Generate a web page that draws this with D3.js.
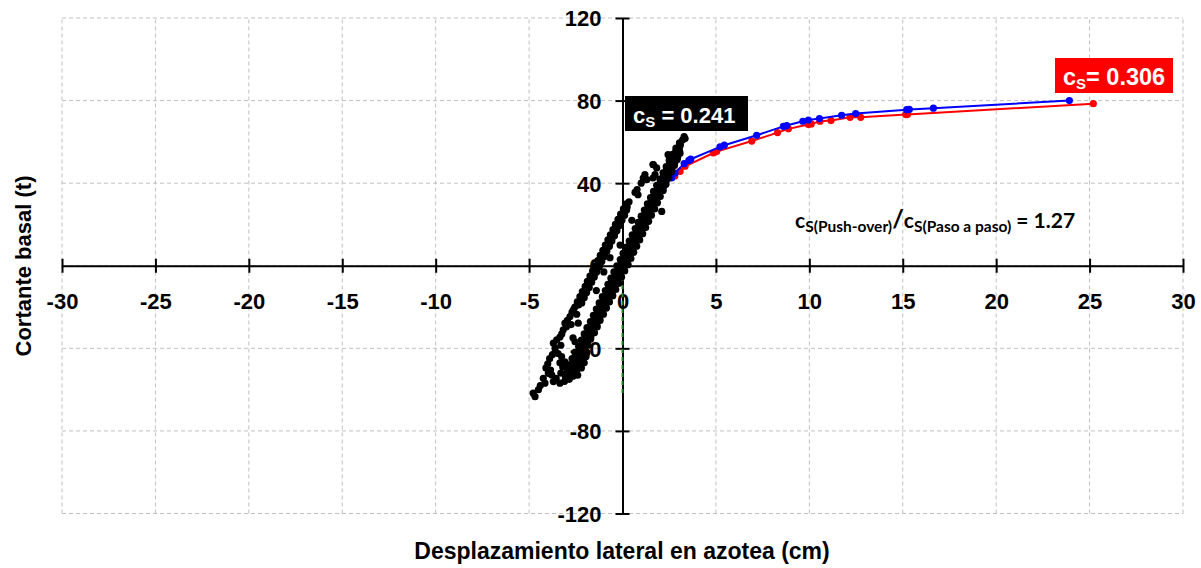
<!DOCTYPE html>
<html>
<head>
<meta charset="utf-8">
<script src="https://cdn.jsdelivr.net/npm/d3@7"></script>
<style>
  html, body { margin: 0; padding: 0; background: #ffffff; }
  svg { display: block; }
</style>
</head>
<body>
<svg id="chart" width="1201" height="568"></svg>
<script>
// ---------------- DATA ----------------
const xTicks = [-30, -25, -20, -15, -10, -5, 0, 5, 10, 15, 20, 25, 30];
const yTicks = [-120, -80, -40, 0, 40, 80, 120];

const xTitle = "Desplazamiento lateral en azotea (cm)";
const yTitle = "Cortante basal (t)";

// Push-over curve (blue)
const blueX = [0, 1.2, 2.2, 2.63, 2.81, 3.3, 3.55, 3.65, 5.22, 5.45, 7.18, 8.61, 8.79, 9.65, 9.95, 10.54, 11.73, 12.48, 15.21, 15.35, 16.64, 23.92];
const blueY = [0, 21, 38.5, 42.5, 44.9, 49.5, 51.0, 51.6, 57.6, 58.4, 63.2, 67.5, 67.9, 70.0, 70.6, 71.3, 72.9, 73.7, 75.6, 75.7, 76.3, 80.0];

// Push-over curve (red)
const redX = [0, 1.2, 2.1, 2.37, 2.8, 3.08, 3.35, 4.86, 5.04, 6.92, 8.3, 8.88, 9.95, 10.1, 10.57, 11.16, 12.18, 12.75, 15.16, 15.25, 25.2];
const redY = [0, 20.5, 36.5, 41.7, 43.5, 45.7, 48.2, 54.6, 55.3, 60.4, 64.5, 66.3, 68.4, 68.7, 70.0, 70.3, 71.9, 71.9, 73.2, 73.2, 78.5];

// Step-by-step (paso a paso) response: dense right band
const rightBand = [
  [-3.05,-54],[-2.85,-55],[-2.65,-53.5],
  [-2.95,-51],[-2.7,-51.5],[-2.45,-50.5],
  [-2.85,-48],[-2.57,-48],[-2.3,-47.5],[-2.05,-47],
  [-2.7,-45],[-2.45,-45.5],[-2.2,-44.5],[-1.95,-44],
  [-2.55,-42],[-2.3,-42],[-2.05,-41.5],
  [-2.35,-39],[-2.1,-39],[-1.85,-38.5],
  [-2.2,-36],[-1.95,-36],[-1.7,-35.5],
  [-2.05,-33],[-1.78,-33],[-1.5,-32.5],
  [-1.9,-30],[-1.6,-30],[-1.35,-29.5],
  [-1.72,-27],[-1.45,-27],[-1.2,-26.5],
  [-1.56,-24],[-1.28,-24],[-1.02,-23.5],
  [-1.4,-21],[-1.12,-21],[-0.86,-20.5],
  [-1.25,-18],[-0.96,-18],[-0.7,-17.5],
  [-1.08,-15],[-0.8,-15],[-0.52,-14.5],
  [-0.92,-12],[-0.64,-12],[-0.36,-11.5],
  [-0.78,-9],[-0.48,-9],[-0.2,-8.5],
  [-0.62,-6],[-0.32,-6],[-0.05,-5.5],
  [-0.46,-3],[-0.16,-3],[0.12,-2.5],
  [-0.3,0],[0,0],[0.3,0.5],
  [-0.12,3],[0.16,3],[0.45,3.5],
  [0.03,6],[0.32,6],[0.6,6.5],
  [0.2,9],[0.48,9],[0.76,9.5],
  [0.36,12],[0.64,12],[0.92,12.5],
  [0.52,15],[0.8,15],[1.08,15.5],
  [0.68,18],[0.96,18],[1.24,18.5],
  [0.84,21],[1.12,21],[1.4,21.5],
  [1.0,24],[1.28,24],[1.55,24.5],
  [1.17,27],[1.44,27],[1.72,27.5],
  [1.33,30],[1.6,30],[1.87,30.5],
  [1.5,33],[1.76,33],[2.02,33.5],
  [1.66,36],[1.93,36],[2.18,36.5],
  [1.83,39],[2.09,39],[2.33,39.5],
  [2.0,42],[2.25,42],[2.48,42.5],
  [2.17,45],[2.41,45],[2.62,45.5],
  [2.34,48],[2.57,48],[2.78,48.5],
  [2.5,51],[2.73,51],[2.93,51.5],
  [2.68,54],[2.89,54],[3.08,54.5],
  [2.86,57],[3.05,57.5],
  [3.05,59.5],[3.22,61],[3.3,62.5],
  [-2.95,-52.5],[-2.67,-52.5],[-2.79,-49.5],[-2.51,-49.5],[-2.63,-46.5],[-2.35,-46.5],
  [-2.47,-43.5],[-2.19,-43.5],[-2.31,-40.5],[-2.03,-40.5],[-2.15,-37.5],[-1.87,-37.5],
  [-1.98,-34.5],[-1.7,-34.5],[-1.82,-31.5],[-1.54,-31.5],[-1.66,-28.5],[-1.38,-28.5],
  [-1.5,-25.5],[-1.22,-25.5],[-1.34,-22.5],[-1.06,-22.5],[-1.18,-19.5],[-0.9,-19.5],
  [-1.02,-16.5],[-0.74,-16.5],[-0.86,-13.5],[-0.58,-13.5],[-0.7,-10.5],[-0.42,-10.5],
  [-0.54,-7.5],[-0.26,-7.5],[-0.38,-4.5],[-0.1,-4.5],[-0.22,-1.5],[0.06,-1.5],
  [-0.06,1.5],[0.22,1.5],[0.1,4.5],[0.38,4.5],[0.26,7.5],[0.54,7.5],
  [0.42,10.5],[0.7,10.5],[0.58,13.5],[0.86,13.5],[0.74,16.5],[1.02,16.5],
  [0.9,19.5],[1.18,19.5],[1.06,22.5],[1.34,22.5],[1.22,25.5],[1.5,25.5],
  [1.38,28.5],[1.66,28.5],[1.54,31.5],[1.82,31.5],[1.7,34.5],[1.98,34.5],
  [1.87,37.5],[2.15,37.5],[2.03,40.5],[2.31,40.5],[2.19,43.5],[2.47,43.5],
  [2.35,46.5],[2.63,46.5],[2.51,49.5],[2.79,49.5],[2.67,52.5],[2.95,52.5],
  [2.85,55.5],[3.05,55.5],[3.1,58.5],
  [-3.2,-49],[-3.3,-52],[-3.1,-56],[-2.4,-53],[-2.2,-49.5],[-1.9,-42],[-3.35,-47]
];

// Step-by-step response: left band
const leftBand = [
  [-2.55,-20],[-2.35,-19],[-2.42,-17.5],[-2.2,-16.5],[-2.28,-15],[-2.06,-14],
  [-2.15,-12.5],[-1.93,-11.5],[-2.0,-10],[-1.8,-9],[-1.88,-7.5],[-1.66,-6.5],
  [-1.74,-5],[-1.52,-4],[-1.6,-2.5],[-1.38,-1.5],[-1.46,0],[-1.24,1],
  [-1.32,2.5],[-1.1,3.5],[-1.19,5],[-0.97,6],[-1.05,7.5],[-0.83,8.5],
  [-0.92,10],[-0.7,11],[-0.78,12.5],[-0.56,13.5],[-0.65,15],[-0.43,16],
  [-0.51,17.5],[-0.29,18.5],[-0.38,20],[-0.16,21],[-0.24,22.5],[-0.02,23.5],
  [-0.1,25],[0.1,26],[0.05,27.5],[0.25,28.5],[0.2,30],[0.35,31],
  [-2.18,-18],[-2.05,-15.5],[-1.92,-13],[-1.78,-10.5],[-1.65,-8],[-1.51,-5.5],
  [-1.38,-3],[-1.24,-0.5],[-1.11,2],[-0.97,4.5],[-0.84,7],[-0.7,9.5],
  [-0.57,12],[-0.43,14.5],[-0.3,17],[-0.16,19.5],[-0.03,22],[0.11,24.5],[0.22,27],
  [-2.7,-22.5],[-2.63,-21.3],[-2.81,-24.6],[-2.95,-26.5],[-3.08,-27.8],[-3.0,-29.5],
  [-3.17,-31],[-3.25,-33],[-3.35,-34.5],[-3.52,-35.9],[-3.7,-37.5],[-3.61,-39.9],
  [-3.6,-41.6],[-3.75,-43],[-3.9,-45],[-4.0,-47.5],[-4.1,-49.5],[-3.97,-52.1],
  [-3.79,-52.9],[-4.24,-54.5],[-4.15,-56.9],[-3.7,-56.1],[-3.35,-56.9],[-4.5,-60],
  [-4.78,-61.7],[-4.68,-63.4],[-4.4,-58],[-3.55,-54.5],
  [-2.45,-23.5],[-2.75,-28.5],[-3.3,-38.5],[-3.45,-42.5],[-3.85,-50.5]
];

// Step-by-step response: scattered points between and around the bands
const scatterExtra = [
  [-2.65,-34.9],[-2.54,-36.8],[-3.08,-46.5],[-2.92,-49],[-2.37,-27.8],[-3.26,-44],
  [-0.67,3.9],[-0.13,10],[-1.0,-3],[-1.4,-12],[0.5,22],
  [0.78,36.9],[0.83,34.4],[0.67,35.5],[1.2,44.1],[1.63,49],[1.74,44.1],[1.63,42.5],
  [2.44,53.8],[2.1,26.3],[3.35,61.6],[1.0,40],[1.11,42.5],[1.3,41.7],[1.65,49],[1.83,47.4]
];

// Vertical reference (green dashed)
const refX = [0, 0];
const refY = [-5.5, -63.5];

const labelPaso = "0.241";
const labelPush = "0.306";
const ratioValue = "1.27";

// ---------------- CHART ----------------
const svg = d3.select("#chart");
const xScale = d3.scaleLinear().domain([-30, 30]).range([62, 1183]);
const yScale = d3.scaleLinear().domain([-120, 120]).range([513.5, 18]);

const fontMain = "'Liberation Sans', Arial, sans-serif";

// gridlines
const grid = svg.append("g");
grid.selectAll("line.v").data(xTicks).enter().append("line")
  .attr("x1", d => xScale(d)).attr("x2", d => xScale(d))
  .attr("y1", yScale(-120)).attr("y2", yScale(120))
  .attr("stroke", "#c0c0c0").attr("stroke-width", 1).attr("stroke-dasharray", "4,3");
grid.selectAll("line.h").data(yTicks).enter().append("line")
  .attr("y1", d => yScale(d)).attr("y2", d => yScale(d))
  .attr("x1", xScale(-30)).attr("x2", xScale(30))
  .attr("stroke", "#c0c0c0").attr("stroke-width", 1).attr("stroke-dasharray", "4,3");

// x axis
const xAxis = d3.axisBottom(xScale).tickValues(xTicks).tickFormat(d => String(d)).tickSizeOuter(0);
const gx = svg.append("g").attr("transform", `translate(0,${yScale(0)})`).call(xAxis);
gx.select(".domain").attr("stroke", "#000").attr("stroke-width", 2);
gx.selectAll(".tick line").attr("y1", -7).attr("y2", 7).attr("stroke", "#000").attr("stroke-width", 2);
gx.selectAll(".tick text").attr("y", 35).attr("dy", "0.36em")
  .attr("font-family", fontMain).attr("font-weight", "bold").attr("font-size", 22).attr("fill", "#000");

// y axis
const yAxis = d3.axisLeft(yScale).tickValues(yTicks).tickFormat(d => String(d)).tickSizeOuter(0);
const gy = svg.append("g").attr("transform", `translate(${xScale(0)},0)`).call(yAxis);
gy.select(".domain").attr("stroke", "#000").attr("stroke-width", 2);
gy.selectAll(".tick line").attr("x1", -7).attr("x2", 7).attr("stroke", "#000").attr("stroke-width", 2);
gy.selectAll(".tick text").attr("x", -21).attr("dy", "0.36em")
  .attr("font-family", fontMain).attr("font-weight", "bold").attr("font-size", 22).attr("fill", "#000");

// axis titles
svg.append("text").attr("x", 622).attr("y", 559).attr("text-anchor", "middle")
  .attr("font-family", fontMain).attr("font-weight", "bold").attr("font-size", 23).text(xTitle);
svg.append("text").attr("transform", "translate(31,266) rotate(-90)").attr("text-anchor", "middle")
  .attr("font-family", fontMain).attr("font-weight", "bold").attr("font-size", 22).text(yTitle);

// green reference line
svg.append("path")
  .datum(refX.map((x, i) => [x, refY[i]]))
  .attr("d", d3.line().x(d => xScale(d[0])).y(d => yScale(d[1])))
  .attr("stroke", "#1a8a1a").attr("stroke-width", 2).attr("stroke-dasharray", "4,4").attr("fill", "none");

// push-over curves
function drawCurve(xs, ys, color) {
  const pts = xs.map((x, i) => [x, ys[i]]);
  svg.append("path").datum(pts)
    .attr("d", d3.line().x(d => xScale(d[0])).y(d => yScale(d[1])))
    .attr("stroke", color).attr("stroke-width", 2).attr("fill", "none");
  svg.append("g").selectAll("circle").data(pts).enter().append("circle")
    .attr("cx", d => xScale(d[0])).attr("cy", d => yScale(d[1])).attr("r", 3.6).attr("fill", color);
}
drawCurve(redX, redY, "#ff0000");
drawCurve(blueX, blueY, "#0000ff");

// step-by-step scatter
const allScatter = rightBand.concat(leftBand, scatterExtra);
svg.append("g").selectAll("circle").data(allScatter).enter().append("circle")
  .attr("cx", d => xScale(d[0])).attr("cy", d => yScale(d[1])).attr("r", 3.6).attr("fill", "#000");

// cS label boxes
function csLabel(x, y, w, h, bg, sep, value, fs) {
  svg.append("rect").attr("x", x).attr("y", y).attr("width", w).attr("height", h).attr("fill", bg);
  const t = svg.append("text").attr("x", x + 8).attr("y", y + h - 8.5)
    .attr("font-family", fontMain).attr("font-weight", "bold").attr("fill", "#fff").attr("font-size", fs);
  t.append("tspan").text("c");
  t.append("tspan").attr("font-size", 15).attr("dy", 4).text("S");
  t.append("tspan").attr("font-size", fs).attr("dy", -4).text(sep + "= " + value);
}
csLabel(625, 96, 123, 35, "#000000", " ", labelPaso, 22);
csLabel(1055, 58, 118, 35, "#ff0000", "", labelPush, 23.5);

// ratio annotation
const rt = svg.append("text").attr("x", 795).attr("y", 228)
  .attr("font-family", "Lato, 'Open Sans', sans-serif").attr("font-weight", "bold").attr("fill", "#000").attr("font-size", 21);
rt.append("tspan").text("c");
rt.append("tspan").attr("font-size", 15.5).attr("dy", 4).text("S(Push-over)");
rt.append("tspan").attr("font-size", 25).attr("dy", -4).text("/");
rt.append("tspan").attr("font-size", 21).text("c");
rt.append("tspan").attr("font-size", 15.5).attr("dy", 4).text("S(Paso a paso)");
rt.append("tspan").attr("font-size", 21).attr("dy", -4).text(" = " + ratioValue);
</script>
</body>
</html>
